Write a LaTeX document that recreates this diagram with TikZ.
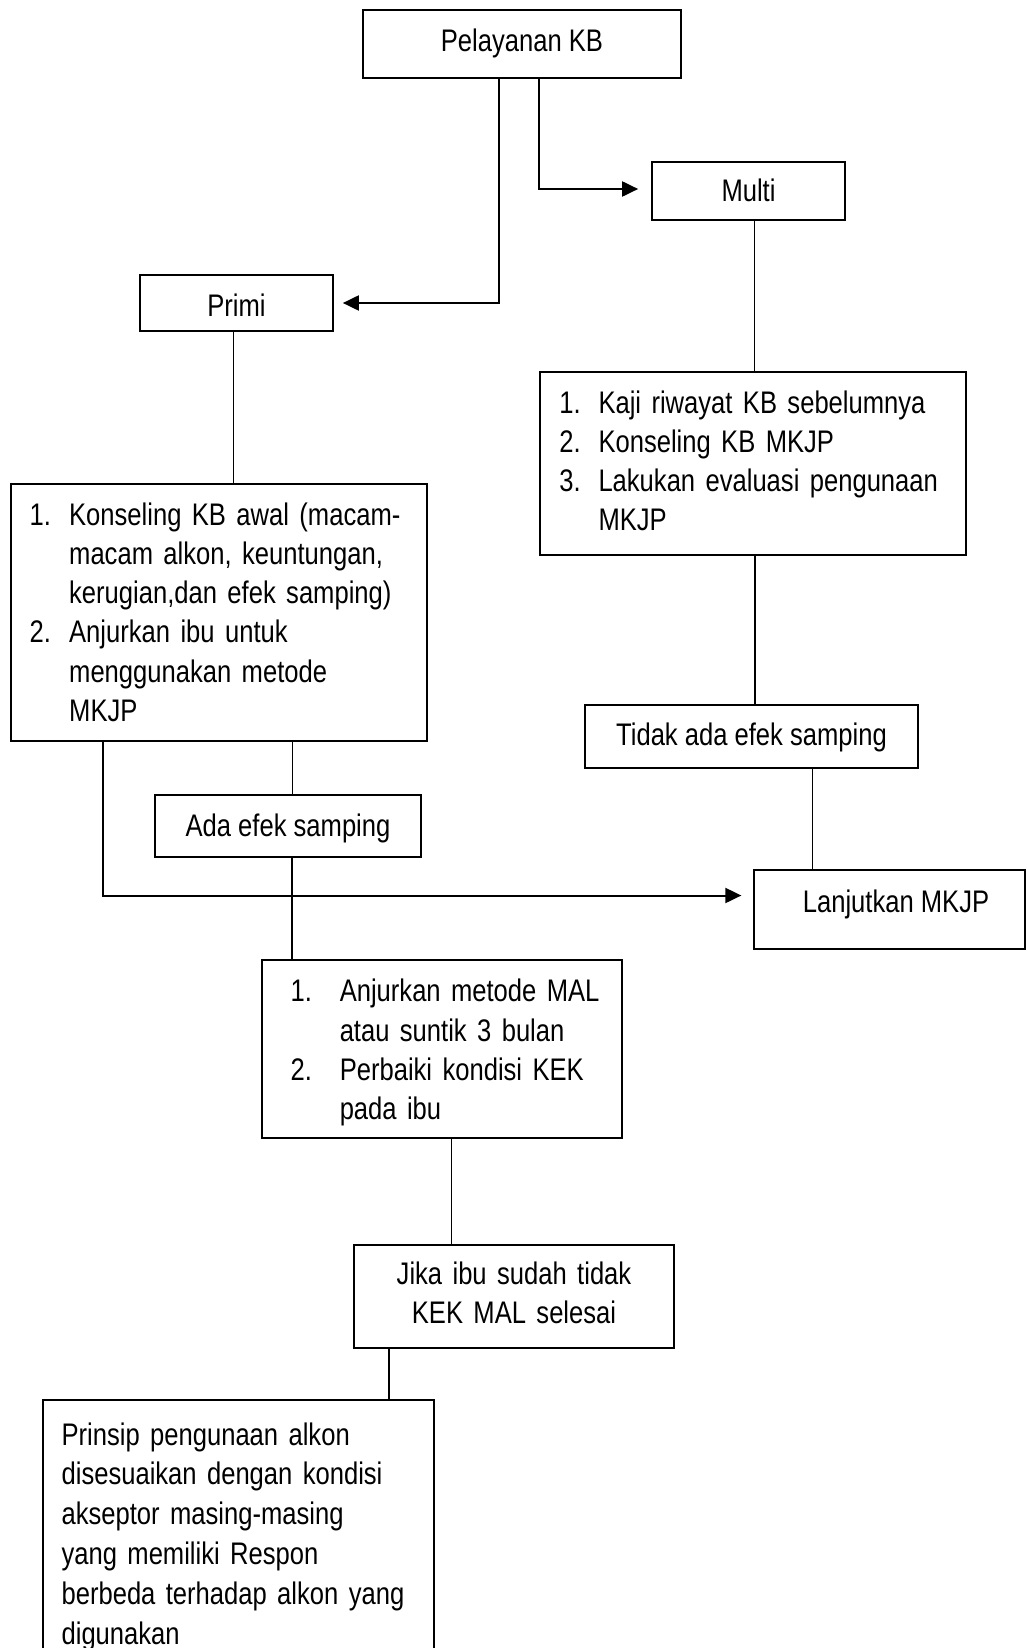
\documentclass[tikz,border=0pt]{standalone}
\usepackage{fontspec}
\setmainfont[FakeStretch=0.82]{Liberation Sans}
\usetikzlibrary{arrows.meta}
% one numbered line: label box of width #1, label #2, text #3 (kept unbroken)
\newcommand{\numline}[3]{\mbox{\makebox[#1][l]{#2}#3}}

\begin{document}
\begin{tikzpicture}[x=1pt, y=-1pt,
  every node/.style={font=\fontsize{31.2}{39.3}\selectfont},
  box/.style={draw, line width=2.3pt, inner sep=0pt},
  listbox/.style={box, align=left, inner ysep=0pt},
  link/.style={line width=1.1pt},
  flow/.style={line width=2pt, -{Triangle[length=16pt,width=15pt]}}
]
\fill[white] (0,0) rectangle (1027,1648);
\useasboundingbox (0,0) rectangle (1027,1648);

% top level
\node[box, minimum width=318pt, minimum height=68pt, text height=15.4pt, text depth=0pt]
  (pel) at (522,44) {Pelayanan KB};
\node[box, minimum width=193pt, minimum height=58pt, text height=21.4pt, text depth=0pt]
  (multi) at (748.5,191) {Multi};
\node[box, minimum width=193pt, minimum height=55.5pt, text height=27.4pt, text depth=0pt]
  (primi) at (236.5,303) {Primi};

% primi branch
\node[listbox, minimum width=416pt, minimum height=257pt, inner xsep=18.6pt,
      text width=378.8pt, text height=0pt, text depth=175pt]
  (konseling) at (219,612.5) {%
  \numline{39.6pt}{1.}{Konseling KB awal (macam-}\\
  \numline{39.6pt}{}{macam alkon, keuntungan,}\\
  \numline{39.6pt}{}{kerugian,dan efek samping)}\\
  \numline{39.6pt}{2.}{Anjurkan ibu untuk}\\
  \numline{39.6pt}{}{menggunakan metode}\\
  \numline{39.6pt}{}{MKJP}};
\node[box, minimum width=266.5pt, minimum height=62pt, text height=21.4pt, text depth=0pt]
  (ada) at (288,826) {Ada efek samping};
\node[listbox, minimum width=360.5pt, minimum height=177.5pt, inner xsep=28.9pt,
      text width=302.7pt, text height=0pt, text depth=94.6pt]
  (anjur) at (442,1049) {%
  \numline{49.1pt}{1.}{Anjurkan metode MAL}\\
  \numline{49.1pt}{}{atau suntik 3 bulan}\\
  \numline{49.1pt}{2.}{Perbaiki kondisi KEK}\\
  \numline{49.1pt}{}{pada ibu}};
\node[box, align=center, minimum width=320pt, minimum height=103pt, inner xsep=15pt,
      text width=290pt, text height=0pt, text depth=24.4pt]
  (jika) at (514,1296.5) {Jika ibu sudah tidak\\KEK MAL selesai};
\node[listbox, minimum width=391pt, minimum height=262pt, inner xsep=18.6pt,
      text width=353.8pt, text height=0pt, text depth=172pt,
      font=\fontsize{31.2}{39.8}\selectfont]
  (prinsip) at (238.5,1531) {%
  \mbox{Prinsip pengunaan alkon}\\
  \mbox{disesuaikan dengan kondisi}\\
  \mbox{akseptor masing-masing}\\
  \mbox{yang memiliki Respon}\\
  \mbox{berbeda terhadap alkon yang}\\
  \mbox{digunakan}};

% multi branch
\node[listbox, minimum width=426pt, minimum height=183pt, inner xsep=19.3pt,
      text width=387.4pt, text height=0pt, text depth=101pt]
  (mkjp) at (753,463.5) {%
  \numline{39.2pt}{1.}{Kaji riwayat KB sebelumnya}\\
  \numline{39.2pt}{2.}{Konseling KB MKJP}\\
  \numline{39.2pt}{3.}{Lakukan evaluasi pengunaan}\\
  \numline{39.2pt}{}{MKJP}};
\node[box, minimum width=333pt, minimum height=63pt, text height=18.4pt, text depth=0pt]
  (tidak) at (751.5,736.5) {Tidak ada efek samping};
\node[box, minimum width=271pt, minimum height=79pt, text height=5.6pt, text depth=0pt]
  (lanjut) at (889.5,909.5) {\hspace*{13pt}Lanjutkan MKJP};

% arrows out of the top box
\draw[flow, shorten >=8.7pt] ([xshift=-23pt]pel.south) |- (primi.east);
\draw[flow, shorten >=12.7pt] ([xshift=16.6pt]pel.south) |- ([yshift=2pt]multi.west);

% primi branch links
\draw[link] ([xshift=-3.2pt]primi.south) -- ([xshift=-3.2pt]primi.south |- konseling.north);
\draw[link] ([xshift=4.7pt]ada.north) -- ([xshift=4.7pt]ada.north |- konseling.south);
\draw[link] ([xshift=4pt]ada.south) -- ([xshift=4pt]ada.south |- anjur.north);
\draw[flow, shorten >=11.5pt] ([xshift=-116.2pt]konseling.south) |- ([yshift=14pt]lanjut.west);
\draw[link] ([xshift=9.5pt]anjur.south) -- ([xshift=9.5pt]anjur.south |- jika.north);
\draw[link] ([xshift=-125pt]jika.south) -- ([xshift=-125pt]jika.south |- prinsip.north);

% multi branch links
\draw[link] ([xshift=6.1pt]multi.south) -- ([xshift=6.1pt]multi.south |- mkjp.north);
\draw[link] ([xshift=2pt]mkjp.south) -- ([xshift=2pt]mkjp.south |- tidak.north);
\draw[link] ([xshift=61pt]tidak.south) -- ([xshift=61pt]tidak.south |- lanjut.north);
\end{tikzpicture}
\end{document}
